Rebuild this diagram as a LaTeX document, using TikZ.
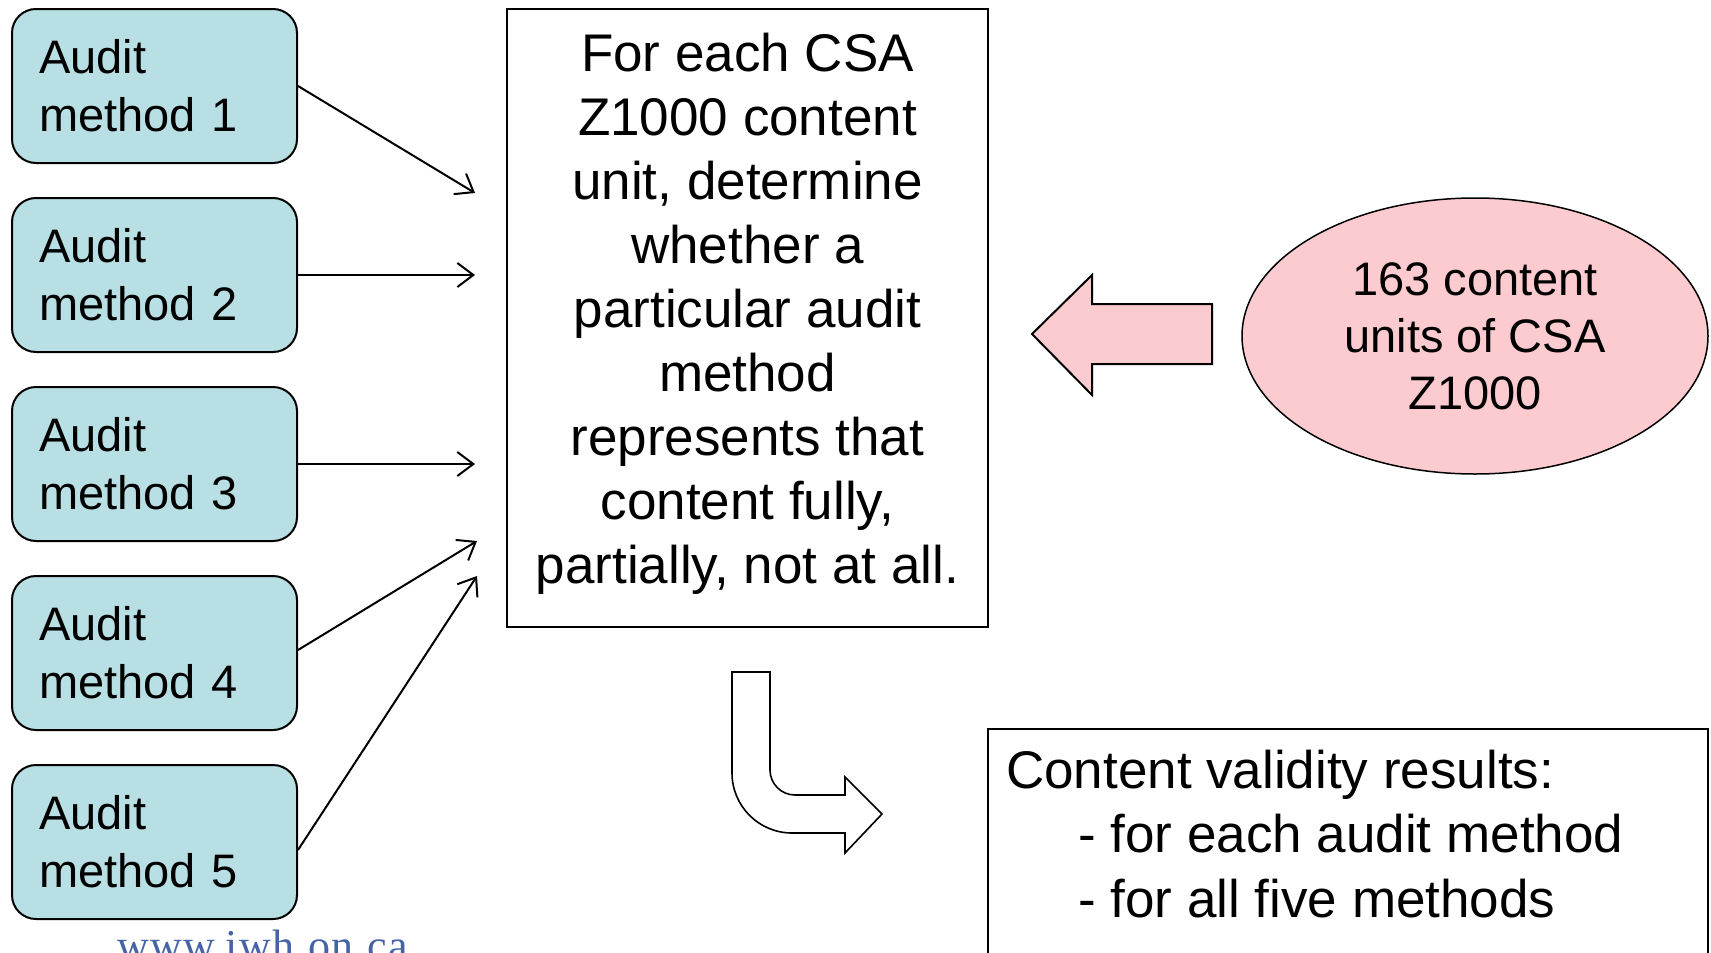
\documentclass[tikz,border=0pt]{standalone}
\usepackage{fontspec}
\setmainfont{Liberation Sans}
\newfontfamily\wmfont[LetterSpace=3]{Liberation Serif}
\usetikzlibrary{arrows.meta,shapes.geometric,calc}
\definecolor{tealfill}{RGB}{184,223,227}
\definecolor{pinkfill}{RGB}{252,203,207}
\definecolor{wmblue}{RGB}{70,100,165}
\begin{document}
\begin{tikzpicture}[x=1pt,y=-1pt,
  abox/.style={draw=black, line width=2pt, fill=tealfill, rounded corners=24pt,
    minimum width=285pt, minimum height=154pt, text width=231pt, inner xsep=27pt,
    align=left, font=\fontsize{47}{58}\selectfont},
  conn/.style={line width=2pt, -{Straight Barb[length=16pt,width=24pt,line width=2pt]}},
  bigtext/.style={font=\fontsize{53}{64}\selectfont},
  restext/.style={anchor=base west, inner sep=0pt, bigtext},
  blockarrow/.style={line width=2pt, line join=miter}
]
\useasboundingbox (0,0) rectangle (1711,953);
\clip (0,0) rectangle (1711,953);
\fill[white] (0,0) rectangle (1711,953);

% audit method boxes
\node[abox] (m1) at (154.5,86) {Audit\\method 1};
\node[abox] (m2) at (154.5,275) {Audit\\method 2};
\node[abox] (m3) at (154.5,464) {Audit\\method 3};
\node[abox] (m4) at (154.5,653) {Audit\\method 4};
\node[abox] (m5) at (154.5,842) {Audit\\method 5};

% central box
\draw[line width=2pt] (507,9) rectangle (988,627);
\node[align=center, bigtext]
  (cen) at (747.5,314) {For each CSA\\Z1000 content\\unit, determine\\whether a\\particular audit\\method\\represents that\\content fully,\\partially, not at all.};

% connector ends
\coordinate (t1) at (475,193);
\coordinate (t2) at (475,275);
\coordinate (t3) at (475,464);
\coordinate (t4) at (477,541);
\coordinate (t5) at (477,576);
\draw[conn] (m1.east) -- (t1);
\draw[conn] (m2.east) -- (t2);
\draw[conn] (m3.east) -- (t3);
\draw[conn] ($(m4.east)+(0,-3)$) -- (t4);
\draw[conn] ($(m5.east)+(0,8)$) -- (t5);

% ellipse
\node[ellipse, draw, line width=1.5pt, fill=pinkfill, minimum width=466pt, minimum height=276pt,
  inner sep=0pt, align=center, font=\fontsize{47}{57}\selectfont]
  (units) at (1475,336) {163 content\\units of CSA\\Z1000};

% pink block arrow
\draw[blockarrow, fill=pinkfill] (1032,334) -- (1092,275) -- (1092,304) -- (1212,304)
  -- (1212,364) -- (1092,364) -- (1092,395) -- cycle;

% bent arrow
\draw[blockarrow, line width=1.6pt, fill=white]
  (732,672) -- (770,672) -- (770,770)
  .. controls (770,783.8) and (781.2,795) .. (795,795)
  -- (845,795) -- (845,777) -- (882,814) -- (845,853) -- (845,833) -- (792,833)
  .. controls (758.9,833) and (732,806.1) .. (732,773) -- cycle;

% results box
\draw[line width=2pt] (988,729) rectangle (1708,1000);
\node[restext] (r1) at (1006,788) {Content validity results:};
\node[restext] (r2) at (1078,852) {- for each audit method};
\node[restext] (r3) at (1078,917) {- for all five methods};

% watermark
\node[anchor=base west, inner sep=0pt, font=\wmfont\fontsize{44}{44}\selectfont, text=wmblue]
  (wm) at (117,960) {www.iwh.on.ca};
\end{tikzpicture}
\end{document}
